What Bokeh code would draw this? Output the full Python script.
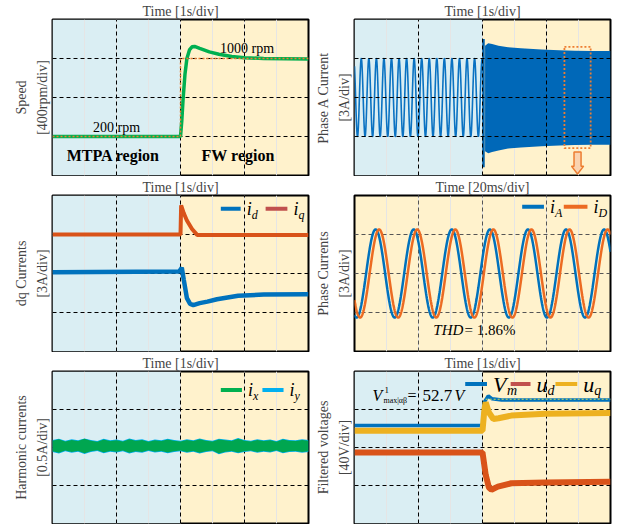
import numpy as np
from bokeh.plotting import figure
from bokeh.layouts import column, row
from bokeh.models import (Range1d, LinearAxis, FixedTicker, Grid, BoxAnnotation,
                          Label, PolyAnnotation)
from bokeh.embed import file_html
from bokeh.resources import INLINE

SERIF = "Liberation Serif"
BLUE_BG = "#DAEEF3"
YEL_BG = "#FFF2CC"

# ---------------- data (time and signals in divisions unless noted) ----------------
div_ticks = [1, 2, 3]
region_split = 2.0

# Speed (rpm)
speed_t = [0.0, 2.0, 2.02, 2.04, 2.07, 2.10, 2.14, 2.18, 2.22, 2.30, 2.45, 2.60, 2.80, 3.00, 3.30, 4.0]
speed_rpm = [200, 200, 360, 580, 840, 1000, 1088, 1120, 1124, 1104, 1068, 1044, 1020, 1008, 1000, 996]
speed_ref_t = [0.0, 2.0, 2.0, 4.0]
speed_ref_rpm = [200, 200, 1000, 1000]
speed_ticks = [200, 600, 1000]

# Phase A current
phaseA_mtpa_amp = 1.0
phaseA_mtpa_offset = 2.0
phaseA_mtpa_period = 0.118
phaseA_mtpa_trough = 0.047
phaseA_fw_t = [2.04, 2.09, 2.15, 2.25, 2.40, 2.60, 2.92, 3.20, 3.44, 3.70, 4.00]
phaseA_fw_upper = [3.33, 3.39, 3.37, 3.33, 3.29, 3.26, 3.23, 3.21, 3.20, 3.19, 3.19]
phaseA_fw_lower = [0.62, 0.57, 0.60, 0.64, 0.69, 0.72, 0.75, 0.77, 0.78, 0.79, 0.79]
phaseA_step = [0.21, 3.50]
zoom_window = dict(left=3.28, right=3.69, bottom=0.7, top=3.3)

# dq currents
iq_t = [0.0, 2.0, 2.01, 2.05, 2.10, 2.18, 2.26, 4.0]
iq = [3.00, 3.00, 3.75, 3.55, 3.36, 3.14, 2.99, 2.99]
id_t = [0.0, 1.98, 2.02, 2.05, 2.10, 2.15, 2.20, 2.30, 2.42, 2.57, 2.90, 3.30, 4.0]
id_vals = [2.03, 2.05, 2.15, 1.85, 1.37, 1.22, 1.19, 1.24, 1.28, 1.34, 1.43, 1.46, 1.47]

# Phase currents (20 ms/div)
iA_amp, iA_offset, iA_period, iA_peak = 1.13, 2.0, 0.595, 0.33
iD_amp, iD_offset, iD_period, iD_peak = 1.13, 2.0, 0.595, 0.385

# Harmonic currents (envelopes of the noisy band)
harm_t = [0.0, 0.1, 0.2, 0.3, 0.4, 0.5, 0.6, 0.7, 0.8, 0.9, 1.0, 1.1, 1.2, 1.3, 1.4,
          1.5, 1.6, 1.7, 1.8, 1.9, 2.0, 2.1, 2.2, 2.3, 2.4, 2.5, 2.6, 2.7, 2.8, 2.9,
          3.0, 3.1, 3.2, 3.3, 3.4, 3.5, 3.6, 3.7, 3.8, 3.9, 4.0]
ix_upper = [2.18, 2.22, 2.16, 2.20, 2.17, 2.23, 2.18, 2.15, 2.21, 2.17, 2.19, 2.16, 2.22, 2.18,
            2.20, 2.15, 2.19, 2.17, 2.21, 2.18, 2.16, 2.20, 2.17, 2.22, 2.18, 2.16, 2.21, 2.19,
            2.17, 2.23, 2.18, 2.16, 2.20, 2.17, 2.19, 2.15, 2.21, 2.18, 2.17, 2.20, 2.18]
ix_lower = [1.90, 1.86, 1.92, 1.88, 1.91, 1.85, 1.90, 1.93, 1.87, 1.91, 1.89, 1.92, 1.86, 1.90,
            1.88, 1.93, 1.89, 1.91, 1.87, 1.90, 1.92, 1.88, 1.91, 1.86, 1.90, 1.92, 1.84, 1.89,
            1.91, 1.87, 1.90, 1.92, 1.88, 1.91, 1.89, 1.93, 1.87, 1.90, 1.91, 1.88, 1.90]
iy_upper = [2.20, 2.23, 2.18, 2.22, 2.19, 2.24, 2.20, 2.17, 2.23, 2.19, 2.21, 2.18, 2.24, 2.20,
            2.22, 2.17, 2.21, 2.19, 2.23, 2.20, 2.18, 2.22, 2.19, 2.24, 2.20, 2.18, 2.23, 2.21,
            2.19, 2.25, 2.20, 2.18, 2.22, 2.19, 2.21, 2.17, 2.23, 2.20, 2.19, 2.22, 2.20]
iy_lower = [1.88, 1.84, 1.90, 1.86, 1.89, 1.83, 1.88, 1.91, 1.85, 1.89, 1.87, 1.90, 1.84, 1.88,
            1.86, 1.91, 1.87, 1.89, 1.85, 1.88, 1.90, 1.86, 1.89, 1.84, 1.88, 1.90, 1.82, 1.87,
            1.89, 1.85, 1.88, 1.90, 1.86, 1.89, 1.87, 1.91, 1.85, 1.88, 1.89, 1.86, 1.88]

# Filtered voltages
vm_t = [0.0, 2.0, 2.03, 2.09, 2.15, 2.30, 4.0]
vm = [2.58, 2.58, 3.20, 3.36, 3.28, 3.25, 3.25]
uq_t = [0.0, 2.0, 2.03, 2.05, 2.10, 2.17, 2.25, 2.45, 2.98, 4.0]
uq = [2.44, 2.44, 3.00, 3.19, 2.92, 2.75, 2.77, 2.84, 2.89, 2.91]
ud_t = [0.0, 2.0, 2.05, 2.10, 2.14, 2.24, 2.45, 2.98, 4.0]
ud = [1.87, 1.87, 1.28, 0.95, 0.89, 0.97, 1.06, 1.08, 1.10]
vmax_level = 3.27


# ---------------- helpers ----------------
def lab(p, x, y, text, size=14, style="normal", align="left", baseline="middle",
        color="black", xo=0, yo=0, font=SERIF):
    p.add_layout(Label(x=x, y=y, text=text, x_offset=xo, y_offset=yo, text_font=font,
                       text_font_size=f"{size}px", text_font_style=style, text_align=align,
                       text_baseline=baseline, text_color=color))


def leg(p, x0, x1, y, color, main, sub, msize=18, ssize=12, mw=5, lw=4):
    p.line([x0, x1], [y, y], line_color=color, line_width=lw)
    lab(p, x1, y, main, size=msize, style="italic", xo=6)
    lab(p, x1, y, sub, size=ssize, style="italic", xo=6 + mw, yo=-6)


def panel(title, outer, inner, left_col=True, height=176, split=True, yr=(0, 4),
          yticks=div_ticks, grid_color="black", grid_level="underlay"):
    if left_col:
        w, mbl, mbr = 310, 52, 2
    else:
        w, mbl, mbr = 308, 44, 8
    p = figure(width=w, height=height, x_range=Range1d(0, 4), y_range=Range1d(*yr),
               x_axis_location=None, toolbar_location=None, output_backend="svg",
               min_border_left=mbl, min_border_right=mbr, min_border_top=0, min_border_bottom=1,
               background_fill_color=YEL_BG, border_fill_color="white",
               outline_line_color="black", outline_line_width=2, title=title)
    p.title.align = "center"
    p.title.text_font = SERIF
    p.title.text_font_size = "14px"
    p.title.text_font_style = "normal"
    p.title.standoff = 2
    p.title.offset = 0
    ax = p.yaxis[0]
    ax.ticker = FixedTicker(ticks=[])
    ax.axis_label = inner
    extra = LinearAxis(ticker=FixedTicker(ticks=[]), axis_label=outer)
    p.add_layout(extra, "left")
    for a in (ax, extra):
        a.axis_line_color = None
        a.major_tick_in = 0
        a.major_tick_out = 0
        a.minor_tick_in = 0
        a.minor_tick_out = 0
        a.axis_label_text_font = SERIF
        a.axis_label_text_font_size = "14px"
        a.axis_label_text_font_style = "normal"
        a.axis_label_standoff = 3
    if split:
        p.add_layout(BoxAnnotation(right=region_split, fill_color=BLUE_BG, fill_alpha=1,
                                   line_color=None, level="image"))
    p.add_layout(Grid(dimension=0, ticker=FixedTicker(ticks=div_ticks), grid_line_color=grid_color,
                      grid_line_dash="4 3", grid_line_width=1, level=grid_level))
    p.add_layout(Grid(dimension=1, ticker=FixedTicker(ticks=yticks), grid_line_color=grid_color,
                      grid_line_dash="4 3", grid_line_width=1, level=grid_level))
    return p


# ---------------- panel 1: speed ----------------
p1 = panel("Time [1s/div]", "Speed", "[400rpm/div]", yr=(-200, 1400), yticks=speed_ticks)
p1.line(speed_t, speed_rpm, line_color="#00B050", line_width=3.5)
p1.line(speed_ref_t, speed_ref_rpm, line_color="#ED7D31", line_width=1.5, line_dash="2 2")
lab(p1, 1.0, 292, "200 rpm", align="center")
lab(p1, 3.04, 1100, "1000 rpm", align="center")
lab(p1, 0.95, 8, "MTPA region", size=16, style="bold", align="center")
lab(p1, 2.9, 8, "FW region", size=16, style="bold", align="center")

# ---------------- panel 2: phase A current ----------------
p2 = panel("Time [1s/div]", "Phase A Current", "[3A/div]", left_col=False, grid_level="annotation")
tA = np.linspace(0, region_split, 1600)
yA = phaseA_mtpa_offset - phaseA_mtpa_amp * np.cos(2 * np.pi * (tA - phaseA_mtpa_trough) / phaseA_mtpa_period)
p2.line(tA, yA, line_color="#0A72C2", line_width=1.6)
p2.segment(x0=[2.015], y0=[phaseA_step[0]], x1=[2.015], y1=[phaseA_step[1]],
           line_color="#0060A8", line_width=2.5)
p2.varea(x=phaseA_fw_t, y1=phaseA_fw_lower, y2=phaseA_fw_upper, fill_color="#0068B8")
p2.add_layout(BoxAnnotation(fill_alpha=0, line_color="#ED7D31", line_alpha=1, line_dash="2 2",
                            line_width=1.8, **zoom_window))
cx = (zoom_window["left"] + zoom_window["right"]) / 2
p2.add_layout(PolyAnnotation(
    xs=[cx - 0.055, cx + 0.055, cx + 0.055, cx + 0.095, cx, cx - 0.095, cx - 0.055],
    ys=[0.60, 0.60, 0.24, 0.24, 0.04, 0.24, 0.24],
    fill_color="#FAD3B0", fill_alpha=1, line_color="#ED7D31", line_alpha=1, line_width=1.5))

# ---------------- panel 3: dq currents ----------------
p3 = panel("Time [1s/div]", "dq Currents", "[3A/div]")
p3.line(iq_t, iq, line_color="#D95319", line_width=4)
p3.line(id_t, id_vals, line_color="#0072BD", line_width=4.5)
leg(p3, 2.63, 2.94, 3.66, "#0072BD", "i", "d")
leg(p3, 3.33, 3.67, 3.66, "#C0504D", "i", "q")

# ---------------- panel 4: phase currents ----------------
p4 = panel("Time [20ms/div]", "Phase Currents", "[3A/div]", left_col=False, split=False,
           grid_color="#555555")
tP = np.linspace(0, 4, 1200)
p4.line(tP, iA_offset + iA_amp * np.cos(2 * np.pi * (tP - iA_peak) / iA_period),
        line_color="#0072BD", line_width=2.5)
p4.line(tP, iD_offset + iD_amp * np.cos(2 * np.pi * (tP - iD_peak) / iD_period),
        line_color="#EC6B22", line_width=2.5)
leg(p4, 2.62, 2.96, 3.71, "#0072BD", "i", "A")
leg(p4, 3.27, 3.64, 3.71, "#EC6B22", "i", "D")
lab(p4, 1.70, 0.55, "THD", size=15, style="italic", align="right")
lab(p4, 1.72, 0.55, "= 1.86%", size=15)

# ---------------- panel 5: harmonic currents ----------------
p5 = panel("Time [1s/div]", "Harmonic currents", "[0.5A/div]", height=172)
p5.varea(x=harm_t, y1=iy_lower, y2=iy_upper, fill_color="#00B0F0")
p5.varea(x=harm_t, y1=ix_lower, y2=ix_upper, fill_color="#00A650")
leg(p5, 2.63, 2.96, 3.51, "#00B050", "i", "x")
leg(p5, 3.28, 3.61, 3.51, "#00B0F0", "i", "y")

# ---------------- panel 6: filtered voltages ----------------
p6 = panel("Time [1s/div]", "Filtered voltages", "[40V/div]", left_col=False, height=172)
p6.line(vm_t, vm, line_color="#0072BD", line_width=3.5)
p6.line(uq_t, uq, line_color="#EDB120", line_width=6)
p6.line(ud_t, ud, line_color="#D95319", line_width=6)
p6.line([2.05, 4.0], [vmax_level, vmax_level], line_color="#C8DC5A", line_width=1, line_dash="2 2")
leg(p6, 1.73, 2.07, 3.67, "#0072BD", "V", "m", msize=22, ssize=14, mw=14)
leg(p6, 2.44, 2.75, 3.67, "#C0504D", "u", "d", msize=22, ssize=14, mw=11)
leg(p6, 3.14, 3.48, 3.67, "#EDB120", "u", "q", msize=22, ssize=14, mw=11)
lab(p6, 0.28, 3.36, "V", size=16, style="italic")
lab(p6, 0.28, 3.36, "1", size=9, xo=12, yo=6)
lab(p6, 0.28, 3.36, "max|αβ", size=8, xo=11, yo=-5)
lab(p6, 0.28, 3.36, "=", size=16, xo=35)
lab(p6, 0.28, 3.36, "52.7", size=17, xo=50)
lab(p6, 0.28, 3.36, "V", size=16, style="italic", xo=82)

layout = column(row(p1, p2), row(p3, p4), row(p5, p6))
open("out.html", "w").write(file_html(layout, INLINE))
